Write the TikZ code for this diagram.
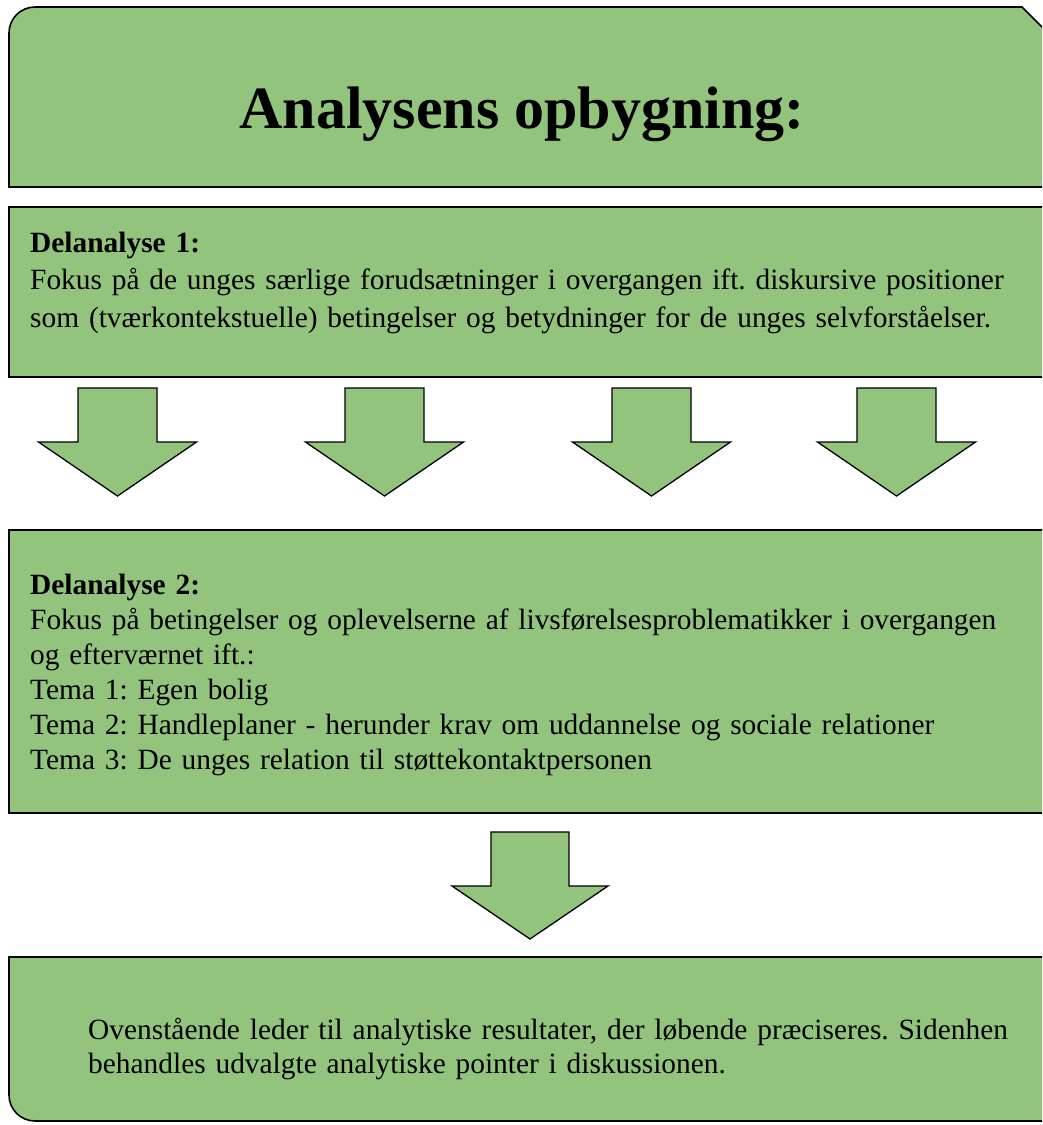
\documentclass[tikz,border=0pt]{standalone}
\usepackage{fontspec}
\setmainfont{Liberation Serif}
\definecolor{boxgreen}{HTML}{93C47D}
\begin{document}
\frenchspacing
\begin{tikzpicture}[x=1pt,y=-1pt,
  panel/.style={fill=boxgreen,draw=black,line width=1.6pt,line join=miter},
  blockarrow/.style={fill=boxgreen,draw=black,line width=1.3pt,line join=miter},
  bodytext/.style={anchor=base west,inner sep=0pt,align=left,text width=1000pt,
    font=\fontsize{29.4}{#1}\selectfont\frenchspacing},
  bodytext/.default=34.5]
\useasboundingbox (0,0) rectangle (1042,1125);
\begin{scope}
  \clip (0,0) rectangle (1042,1125);
  % top title panel: rounded top-left, snipped top-right
  \draw[panel] (1048,187) -- (9,187) -- (9,33) .. controls (9,18.6) and (20.6,7) .. (35,7)
     -- (1022,7) -- (1048,33) -- cycle;
  % Delanalyse 1 panel
  \draw[panel] (9,207) rectangle (1048,377);
  % Delanalyse 2 panel
  \draw[panel] (9,530) rectangle (1048,813);
  % bottom panel: rounded bottom-left
  \draw[panel] (9,957) -- (1048,957) -- (1048,1121) -- (35,1121)
     .. controls (20.6,1121) and (9,1109.4) .. (9,1095) -- cycle;
\end{scope}
% block arrows
\foreach \cx in {117.5,384.5,651.5,896.5}{
  \draw[blockarrow] ({\cx-39.5},388) -- ({\cx+39.5},388) -- ({\cx+39.5},442) -- ({\cx+79},442)
     -- (\cx,496) -- ({\cx-79},442) -- ({\cx-39.5},442) -- cycle;
}
\draw[blockarrow] (491,832) -- (569,832) -- (569,886) -- (608,886) -- (530,939)
   -- (452,886) -- (491,886) -- cycle;
% texts
\node[anchor=base,inner sep=0pt,font=\fontsize{60}{72}\selectfont\bfseries] (title) at (522,128)
  {Analysens opbygning:};
\node[bodytext=37.5] (d1) at (30,252)
  {\textbf{Delanalyse 1:}\\
   Fokus på de unges særlige forudsætninger i overgangen ift. diskursive positioner\\
   som (tværkontekstuelle) betingelser og betydninger for de unges selvforståelser.};
\node[bodytext=35] (d2) at (30,594)
  {\textbf{Delanalyse 2:}\\
   Fokus på betingelser og oplevelserne af livsførelsesproblematikker i overgangen\\
   og efterværnet ift.:\\
   Tema 1: Egen bolig\\
   Tema 2: Handleplaner - herunder krav om uddannelse og sociale relationer\\
   Tema 3: De unges relation til støttekontaktpersonen};
\node[bodytext=34] (res) at (88,1039)
  {Ovenstående leder til analytiske resultater, der løbende præciseres. Sidenhen\\
   behandles udvalgte analytiske pointer i diskussionen.};
\end{tikzpicture}
\end{document}
